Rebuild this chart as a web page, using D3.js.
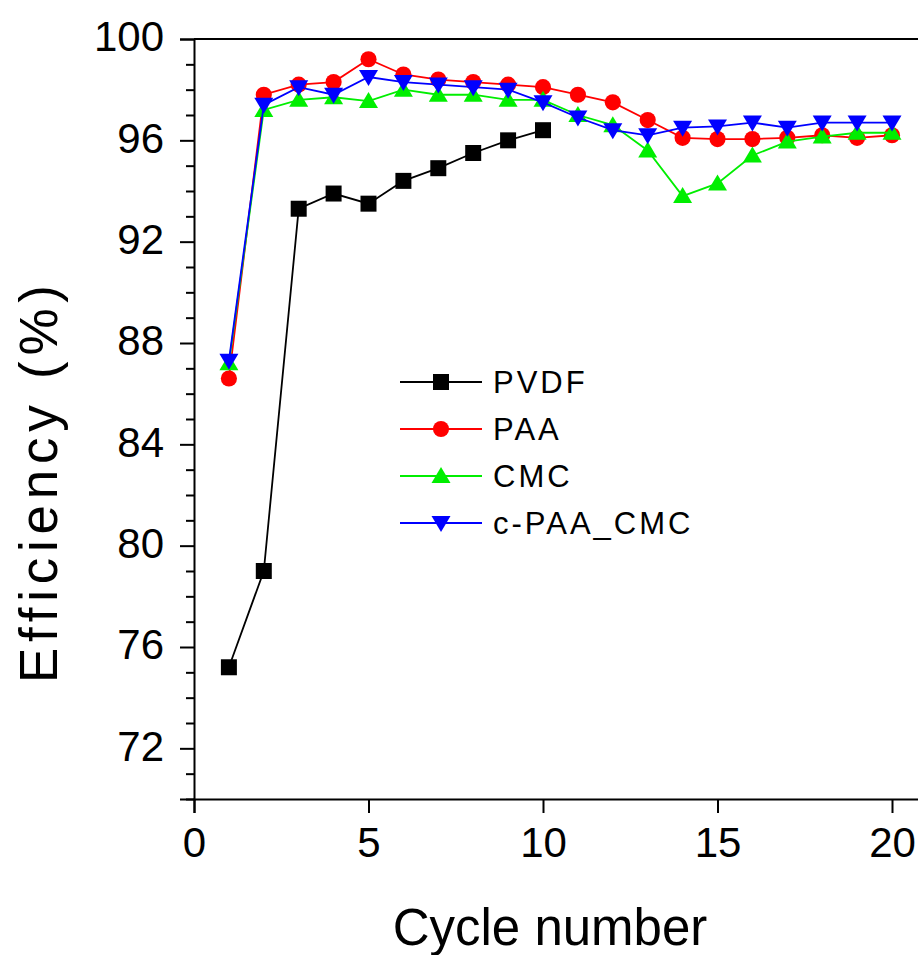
<!DOCTYPE html>
<html>
<head>
<meta charset="utf-8">
<script src="https://cdn.jsdelivr.net/npm/d3@7/dist/d3.min.js"></script>
<style>
  html, body { margin: 0; padding: 0; background: #fff; }
  svg { display: block; font-family: Arial, "Liberation Sans", sans-serif; }
</style>
</head>
<body>
<svg id="chart" width="918" height="955"></svg>
<script>
// Coulombic efficiency per cycle for four binders
const cycles = d3.range(1, 21);
const pvdf = [75.2, 79.0, 93.3, 93.9, 93.5, 94.4, 94.9, 95.5, 96.0, 96.4];
const paa = [86.6, 97.8, 98.2, 98.3, 99.2, 98.6, 98.4, 98.3, 98.2, 98.1,
             97.8, 97.5, 96.8, 96.1, 96.05, 96.05, 96.1, 96.2, 96.1, 96.2];
const cmc = [87.2, 97.2, 97.6, 97.7, 97.55, 98.0, 97.8, 97.8, 97.6, 97.6,
             97.0, 96.6, 95.6, 93.8, 94.3, 95.4, 95.95, 96.15, 96.3, 96.3];
const cPaaCmc = [87.3, 97.4, 98.1, 97.8, 98.5, 98.3, 98.2, 98.1, 98.0, 97.5,
                 96.9, 96.4, 96.2, 96.5, 96.55, 96.7, 96.5, 96.7, 96.7, 96.7];
const seriesNames = ["PVDF", "PAA", "CMC", "c-PAA_CMC"];
const xTicks = [0, 5, 10, 15, 20];
const yMajorTicks = [72, 76, 80, 84, 88, 92, 96, 100];
const yMinorTicks = d3.range(70, 101).filter(v => !yMajorTicks.includes(v));

const series = [
  { name: seriesNames[0], values: pvdf, color: "#000000", marker: "square" },
  { name: seriesNames[1], values: paa, color: "#ff0000", marker: "circle" },
  { name: seriesNames[2], values: cmc, color: "#00ee00", marker: "up" },
  { name: seriesNames[3], values: cPaaCmc, color: "#0000ff", marker: "down" }
];

const svg = d3.select("#chart");
const plotLeft = 194, plotTop = 39, plotBottom = 799;

const x = d3.scaleLinear().domain([0, 21]).range([plotLeft, plotLeft + 21 * 34.9]);
const y = d3.scaleLinear().domain([70, 100]).range([plotBottom, plotTop]);

// marker shapes
function markerPath(type) {
  switch (type) {
    case "square": return "M-8,-8H8V8H-8Z";
    case "circle": return d3.symbol(d3.symbolCircle, 205)();
    case "up": return "M0,-9L9.5,7H-9.5Z";
    case "down": return "M0,9L9.5,-7H-9.5Z";
  }
}

// frame: top edge
svg.append("line")
  .attr("x1", plotLeft).attr("x2", 918).attr("y1", plotTop).attr("y2", plotTop)
  .attr("stroke", "#000").attr("stroke-width", 2);

// y axis with major and minor ticks
const yAxis = svg.append("g").attr("transform", `translate(${plotLeft},0)`);
yAxis.call(d3.axisLeft(y).tickValues(yMajorTicks).tickSize(14).tickPadding(16)
  .tickFormat(d3.format("d")));
yAxis.select(".domain").attr("stroke-width", 2);
yAxis.selectAll(".tick line").attr("stroke-width", 2);
yAxis.selectAll(".tick text").attr("font-size", 42).attr("font-family", "Arial, 'Liberation Sans', sans-serif")
  .attr("dy", "0.28em");
const yMinor = svg.append("g").attr("transform", `translate(${plotLeft},0)`);
yMinor.call(d3.axisLeft(y).tickValues(yMinorTicks).tickSize(8).tickFormat(""));
yMinor.select(".domain").remove();
yMinor.selectAll(".tick line").attr("stroke-width", 2);

// x axis
const xAxis = svg.append("g").attr("transform", `translate(0,${plotBottom})`);
xAxis.call(d3.axisBottom(x).tickValues(xTicks).tickSize(14).tickPadding(14)
  .tickFormat(d3.format("d")));
xAxis.select(".domain").attr("stroke-width", 2);
xAxis.selectAll(".tick line").attr("stroke-width", 2);
xAxis.selectAll(".tick text").attr("font-size", 42).attr("font-family", "Arial, 'Liberation Sans', sans-serif");

// axis titles
svg.append("text")
  .attr("x", (plotLeft + 918) / 2 - 6).attr("y", 945)
  .attr("text-anchor", "middle").attr("font-size", 51)
  .text("Cycle number");
svg.append("text")
  .attr("transform", "translate(57,484) rotate(-90)")
  .attr("text-anchor", "middle").attr("font-size", 53)
  .attr("textLength", 398).attr("lengthAdjust", "spacing")
  .text("Efficiency (%)");

// series lines and markers
const line = d3.line().x(d => x(d[0])).y(d => y(d[1]));
series.forEach(s => {
  const pts = s.values.map((v, i) => [cycles[i], v]);
  const g = svg.append("g");
  g.append("path").datum(pts).attr("d", line)
    .attr("fill", "none").attr("stroke", s.color).attr("stroke-width", 1.8);
  g.selectAll("path.m").data(pts).join("path").attr("class", "m")
    .attr("transform", d => `translate(${x(d[0])},${y(d[1])})`)
    .attr("d", markerPath(s.marker)).attr("fill", s.color);
});

// legend
const legend = svg.append("g");
series.forEach((s, i) => {
  const cy = 382 + i * 47;
  legend.append("line").attr("x1", 400).attr("x2", 482).attr("y1", cy).attr("y2", cy)
    .attr("stroke", s.color).attr("stroke-width", 1.8);
  legend.append("path").attr("transform", `translate(441,${cy})`)
    .attr("d", markerPath(s.marker)).attr("fill", s.color);
  legend.append("text").attr("x", 493).attr("y", cy + 11)
    .attr("font-size", 31).attr("letter-spacing", 3).text(s.name);
});
</script>
</body>
</html>
